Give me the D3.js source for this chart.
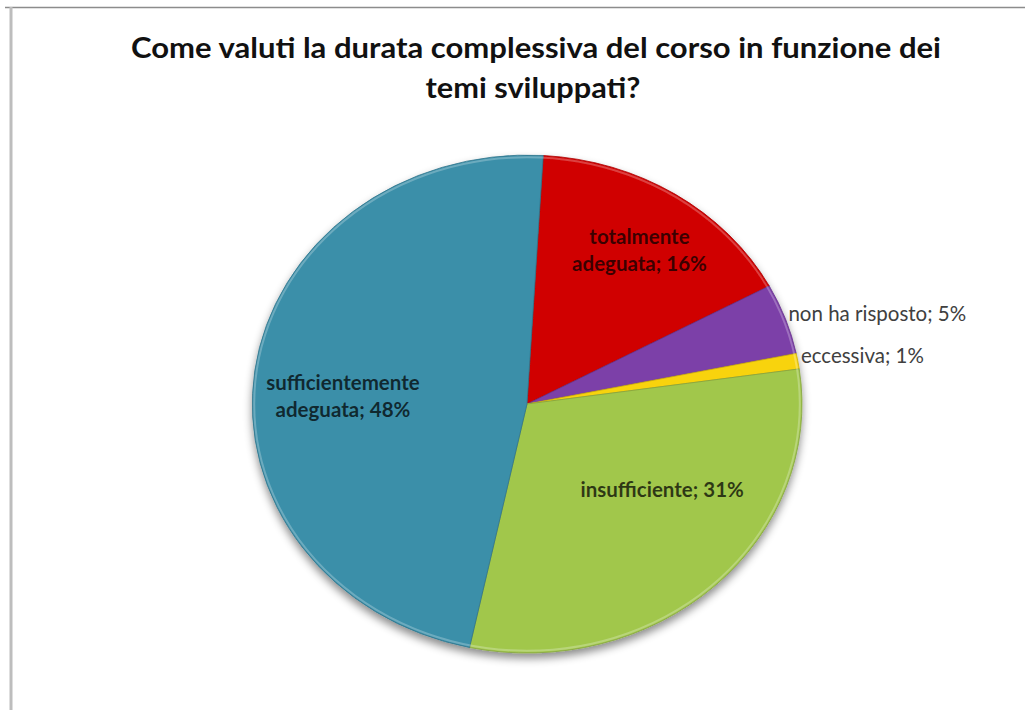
<!DOCTYPE html>
<html>
<head>
<meta charset="utf-8">
<script src="https://cdn.jsdelivr.net/npm/d3@7"></script>
<style>
  html, body { margin: 0; padding: 0; background: #fff; }
  svg { display: block; }
</style>
</head>
<body>
<svg id="chart"></svg>
<script>
// data (shares in %, labels show rounded values)
const categories = ['totalmente adeguata', 'non ha risposto', 'eccessiva', 'insufficiente', 'sufficientemente adeguata']
const shares = [16.2, 4.6, 1.0, 30.6, 47.6]
const labelLines = [['totalmente', 'adeguata; 16%'], ['non ha risposto; 5%'], ['eccessiva; 1%'], ['insufficiente; 31%'], ['sufficientemente', 'adeguata; 48%']]
const colors = ['#cc0000', '#7a3ea5', '#f4cf10', '#9ec34b', '#3a8ca6']
const titleLines = ['Come valuti la durata complessiva del corso in funzione dei', 'temi sviluppati?']

const width = 1025
const height = 710
const cx = 527
const cy = 404
const rx = 275
const ry = 249
const offset = 3.4 * Math.PI / 180

const svg = d3.select('#chart').attr('width', width).attr('height', height)
const defs = svg.append('defs')

const shadow = defs.append('filter').attr('id', 'shadow').attr('x', '-10%').attr('y', '-10%').attr('width', '120%').attr('height', '125%')
shadow.append('feDropShadow').attr('dx', 0).attr('dy', 5).attr('stdDeviation', 4).attr('flood-color', '#000').attr('flood-opacity', 0.45)

// soft vertical shading like the office preset
colors.forEach((c, i) => {
  const g = defs.append('linearGradient').attr('id', `grad${i}`).attr('x1', 0).attr('x2', 0)
    .attr('gradientUnits', 'userSpaceOnUse').attr('y1', cy - ry).attr('y2', cy + ry)
  g.append('stop').attr('offset', 0).attr('stop-color', d3.color(c).brighter(0.05))
  g.append('stop').attr('offset', 1).attr('stop-color', d3.color(c).darker(0.28))
})

// frame lines
svg.append('line').attr('x1', 5).attr('x2', width).attr('y1', 7.5).attr('y2', 7.5).attr('stroke', '#8c8c8c').attr('stroke-width', 1.5)
svg.append('line').attr('x1', 11).attr('x2', 11).attr('y1', 7).attr('y2', height).attr('stroke', '#bdbdbd').attr('stroke-width', 3)

// title
const title = svg.append('text').attr('text-anchor', 'middle').attr('font-family', 'Lato, sans-serif')
  .attr('font-weight', 'bold').attr('font-size', 28).attr('fill', '#111')
title.append('tspan').attr('x', 536).attr('y', 58).attr('textLength', 810).attr('lengthAdjust', 'spacingAndGlyphs').text(titleLines[0])
title.append('tspan').attr('x', 533).attr('y', 98).attr('textLength', 215).attr('lengthAdjust', 'spacingAndGlyphs').text(titleLines[1])

const data = categories.map((c, i) => ({ name: c, value: shares[i], lines: labelLines[i], color: colors[i], idx: i }))

const pie = d3.pie().sort(null).value((d) => d.value).startAngle(offset).endAngle(offset + 2 * Math.PI)
const arcs = pie(data)
const arc = d3.arc().innerRadius(0).outerRadius(1)

const pieG = svg.append('g').attr('filter', 'url(#shadow)')
const slices = pieG.append('g').attr('transform', `translate(${cx},${cy}) scale(${rx},${ry})`)

slices.selectAll('path')
  .data(arcs)
  .join('path')
  .attr('d', arc)
  .attr('fill', (d) => `url(#grad${d.data.idx})`)
  .attr('stroke', (d) => d3.color(d.data.color).darker(0.5))
  .attr('stroke-width', 0.8)
  .attr('vector-effect', 'non-scaling-stroke')

// light bevel around the rim
slices.append('ellipse').attr('cx', 0).attr('cy', 0).attr('rx', 0.992).attr('ry', 0.991)
  .attr('fill', 'none').attr('stroke', '#fff').attr('stroke-opacity', 0.25).attr('stroke-width', 2)
  .attr('vector-effect', 'non-scaling-stroke')

// place a point on the ellipse at angle a (clockwise from top) and relative radius r
const polar = (a, r) => [cx + rx * r * Math.sin(a), cy - ry * r * Math.cos(a)]

// label layout: inside labels use an angle/radius fit, small ones sit just outside the rim
const inside = { 0: { da: 1, r: 0.74 }, 3: { da: -12, r: 0.6 }, 4: { da: -5, r: 0.67 } }

const labels = svg.append('g').attr('font-family', 'Lato, sans-serif').attr('font-size', 20.5)
arcs.forEach((d) => {
  const mid = (d.startAngle + d.endAngle) / 2
  const cfg = inside[d.data.idx]
  const lh = 27
  if (cfg) {
    const [x, y] = polar(mid + cfg.da * Math.PI / 180, cfg.r)
    const t = labels.append('text').attr('text-anchor', 'middle').attr('font-weight', 'bold')
      .attr('fill', '#000').attr('fill-opacity', 0.72)
    d.data.lines.forEach((l, j) => {
      t.append('tspan').attr('x', x).attr('y', y + (j - (d.data.lines.length - 1) / 2) * lh).attr('dy', '0.35em').text(l)
    })
  } else {
    const [x, y] = polar(mid, 1)
    labels.append('text').attr('x', x + 3).attr('y', y - 5).attr('dy', '0.35em')
      .attr('fill', '#404040').text(d.data.lines[0])
  }
})
</script>
</body>
</html>
